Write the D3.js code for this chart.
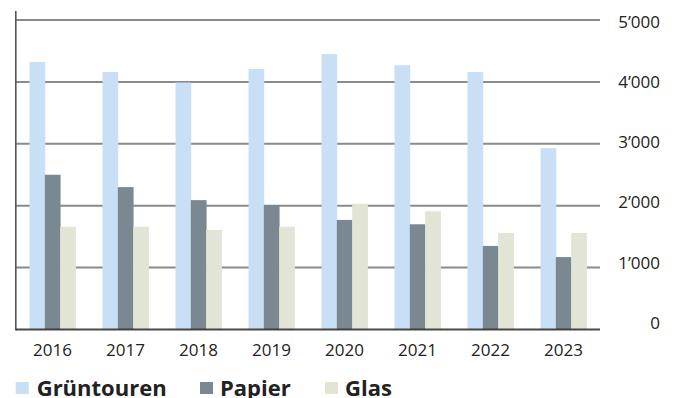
<!DOCTYPE html>
<html>
<head>
<meta charset="utf-8">
<script src="https://cdn.jsdelivr.net/npm/d3@7"></script>
<style>
  html, body { margin: 0; padding: 0; background: #fff; }
  svg { display: block; font-family: "Open Sans", sans-serif; }
</style>
</head>
<body>
<svg id="chart" width="678" height="398"></svg>
<script>
// Sammelmengen pro Jahr
const years = ["2016", "2017", "2018", "2019", "2020", "2021", "2022", "2023"];
const seriesNames = ["Grüntouren", "Papier", "Glas"];
const gruentouren = [4320, 4160, 3990, 4210, 4450, 4270, 4160, 2930];
const papier = [2500, 2300, 2090, 2010, 1770, 1700, 1350, 1170];
const glas = [1660, 1660, 1610, 1660, 2030, 1910, 1560, 1560];
const yTicks = [0, 1000, 2000, 3000, 4000, 5000];
const colors = ["#c9dff5", "#7a8891", "#e2e4d6"];

const seriesValues = [gruentouren, papier, glas];
const rows = years.map((yr, i) => ({
  year: yr,
  values: seriesNames.map((s, k) => ({ key: s, value: seriesValues[k][i], color: colors[k] }))
}));

const svg = d3.select("#chart");
const plotLeft = 16, plotRight = 600, plotTop = 20, plotBottom = 329.5;

const x0 = d3.scaleBand().domain(years).range([plotLeft, plotRight])
  .paddingInner(0.37).paddingOuter(0.185);
const x1 = d3.scaleBand().domain(seriesNames).range([0, x0.bandwidth()]).padding(0);
const y = d3.scaleLinear().domain([0, 5000]).range([plotBottom, plotTop]);
// Beschriftungen rechts sitzen leicht versetzt zu den Rasterlinien
const yLabel = d3.scaleLinear().domain([0, 5000]).range([329, 27.7]);

const fmt = d3.formatLocale({ decimal: ".", thousands: "\u2019", grouping: [3], currency: ["", ""] }).format(",");

// Rasterlinien
svg.append("g").selectAll("line").data(yTicks.filter(d => d > 0)).join("line")
  .attr("x1", plotLeft).attr("x2", plotRight)
  .attr("y1", d => y(d)).attr("y2", d => y(d))
  .attr("stroke", "#8a8a8a").attr("stroke-width", 2);

// Balken
const groups = svg.append("g").selectAll("g").data(rows).join("g")
  .attr("transform", d => `translate(${x0(d.year)},0)`);
groups.selectAll("rect").data(d => d.values).join("rect")
  .attr("x", d => x1(d.key))
  .attr("width", x1.bandwidth() + 0.4)
  .attr("y", d => y(d.value))
  .attr("height", d => y(0) - y(d.value))
  .attr("fill", d => d.color);

// Achsenlinien
svg.append("line").attr("x1", 15.8).attr("x2", 15.8).attr("y1", 11).attr("y2", plotBottom + 1)
  .attr("stroke", "#555").attr("stroke-width", 1.6);
svg.append("line").attr("x1", plotLeft).attr("x2", plotRight).attr("y1", y(0)).attr("y2", y(0))
  .attr("stroke", "#333").attr("stroke-width", 2).attr("stroke-opacity", 0.9);

// Y-Beschriftung rechts
svg.append("g").selectAll("text").data(yTicks).join("text")
  .attr("x", 660).attr("y", d => yLabel(d))
  .attr("text-anchor", "end")
  .attr("font-size", 17).attr("fill", "#222")
  .text(d => fmt(d));

// Jahresbeschriftung
svg.append("g").selectAll("text").data(years).join("text")
  .attr("x", d => x0(d) + x0.bandwidth() / 2).attr("y", 356)
  .attr("text-anchor", "middle")
  .attr("font-size", 17).attr("fill", "#222")
  .text(d => d);

// Legende
const legendX = [15.7, 200, 325];
const legend = svg.append("g").selectAll("g").data(seriesNames).join("g")
  .attr("transform", (d, i) => `translate(${legendX[i]},0)`);
legend.append("rect").attr("x", 0).attr("y", 382).attr("width", 13).attr("height", 12)
  .attr("fill", (d, i) => colors[i]);
legend.append("text").attr("x", (d, i) => i === 0 ? 21 : 20).attr("y", 396)
  .attr("font-size", 22).attr("font-weight", 700).attr("fill", "#222")
  .text(d => d);
</script>
</body>
</html>
